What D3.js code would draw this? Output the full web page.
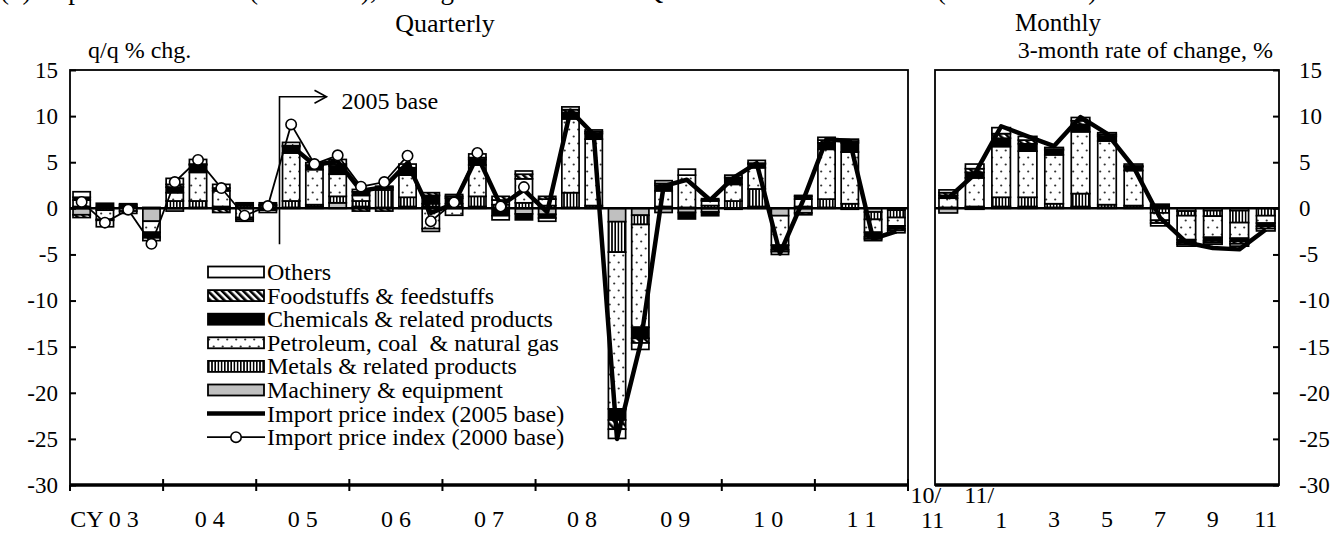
<!DOCTYPE html>
<html><head><meta charset="utf-8">
<script src="https://cdn.jsdelivr.net/npm/d3@7"></script>
<style>
body{margin:0;background:#fff}
svg{display:block}
text{font-family:"Liberation Serif","Times New Roman",serif;fill:#000}
</style>
</head><body>
<svg id="c" width="1342" height="533"></svg>
<script>
// ---------- DATA ----------
const quarters = ["03Q1","03Q2","03Q3","03Q4","04Q1","04Q2","04Q3","04Q4","05Q1","05Q2","05Q3","05Q4",
  "06Q1","06Q2","06Q3","06Q4","07Q1","07Q2","07Q3","07Q4","08Q1","08Q2","08Q3","08Q4",
  "09Q1","09Q2","09Q3","09Q4","10Q1","10Q2","10Q3","10Q4","11Q1","11Q2","11Q3","11Q4"];
const years = [2003,2004,2005,2006,2007,2008,2009,2010,2011,2012];
const yearLabels = ["CY 0 3","0 4","0 5","0 6","0 7","0 8","0 9","1 0","1 1"];
const months = ["10/11","10/12","11/1","11/2","11/3","11/4","11/5","11/6","11/7","11/8","11/9","11/10","11/11"];
const yTicks = [-30,-25,-20,-15,-10,-5,0,5,10,15];

const seriesKeys = ["Machinery","Metals","Petroleum","Chemicals","Foodstuffs","Others"];
const legendNames = ["Others","Foodstuffs & feedstuffs","Chemicals & related products",
  "Petroleum, coal  & natural gas","Metals & related products","Machinery & equipment",
  "Import price index (2005 base)","Import price index (2000 base)"];

// quarterly contributions (q/q % chg.)
const qMachinery = [-0.7,0.1,0.1,-1.4,-0.3,0.1,-0.1,0.1,0.1,0.1,0.2,0.6,0.2,0.1,0.2,0.2,0.2,0.2,0.1,-0.6,
  -0.65,0.1,0.1,-1.45,-0.75,-0.45,-0.45,-0.4,-0.1,0.2,-0.8,-0.5,0.1,-0.1,-0.4,-0.2];
const qMetals = [0.2,-0.2,0.1,0.1,0.8,0.7,0.2,0.2,0.2,0.7,0.2,0.7,0.6,1.9,1.0,0.3,0.3,1.1,0.3,0.6,
  0.3,1.6,0.2,-3.3,-1.0,0.2,0.1,0.3,0.8,1.9,0.0,0.2,0.9,0.5,-0.8,-0.8];
const qPetroleum = [0.7,-1.0,-0.3,-1.2,0.9,3.1,1.7,-1.0,0.1,5.2,3.8,2.4,0.6,0.2,2.4,-2.2,-0.75,3.4,0.5,2.6,
  0.7,8.0,7.2,-17.0,-11.15,1.7,3.5,0.5,1.8,2.3,-3.2,0.8,5.4,5.6,-1.4,-0.9];
const qChemicals = [0.3,0.45,0.2,-0.5,0.6,0.8,0.3,0.3,0.2,0.7,0.4,0.9,0.4,0.1,0.7,0.9,0.6,0.6,-0.8,-0.65,
  -0.4,0.7,0.6,-1.2,-1.2,0.6,-0.7,-0.4,0.7,0.4,-0.5,0.3,0.7,1.0,-0.5,-0.3];
const qFoodstuffs = [-0.3,-0.1,0.1,-0.1,0.3,0.1,-0.35,-0.2,-0.2,0.1,0.1,0.2,-0.3,-0.3,0.1,0.3,0.2,0.2,0.4,0.5,
  0.3,0.3,0.2,-1.0,-0.5,0.2,0.0,0.1,0.05,0.1,-0.2,-0.2,0.3,0.2,-0.2,-0.2];
const qOthers = [0.6,-0.7,-0.25,-0.3,0.65,0.5,0.4,-0.2,-0.25,0.35,0.25,0.5,0.25,0.1,0.4,-0.3,0.2,0.4,-0.45,0.35,
  -0.35,0.3,0.2,-1.0,-0.7,0.3,0.65,0.15,0.25,0.3,-0.3,0.1,0.3,0.2,-0.2,-0.25];
// import price index, 2005 base (from 05Q2) and 2000 base (to 07Q4)
const qIndex2005 = [null,null,null,null,null,null,null,null,null,
  6.8,4.7,5.1,1.9,2.3,4.9,-0.5,0.5,5.7,0.3,2.0,-0.4,10.6,8.0,-25.0,-14.8,2.4,3.1,0.9,3.3,4.9,-4.9,0.9,7.5,7.3,-3.3,-2.5];
const qIndex2000 = [0.7,-1.55,-0.15,-3.85,2.85,5.25,2.2,-0.8,0.25,9.1,4.8,5.75,2.35,2.85,5.7,-1.4,0.65,6.0,0.2,2.3,
  null,null,null,null,null,null,null,null,null,null,null,null,null,null,null,null];

// monthly contributions (3-month rate of change, %)
const mMachinery = [-0.5,-0.1,0.2,0.2,0.1,0.2,0.1,0.1,0.2,-0.3,-0.25,-0.25,0.0];
const mMetals = [0.1,0.2,1.0,1.0,0.4,1.4,0.3,0.2,-0.5,-0.5,-0.6,-1.3,-0.8];
const mPetroleum = [1.0,3.1,5.5,5.0,5.3,6.7,6.9,3.8,-0.8,-2.6,-2.3,-1.7,-0.8];
const mChemicals = [0.3,0.6,0.9,0.8,0.5,0.8,0.5,0.4,0.25,-0.3,-0.35,-0.35,-0.35];
const mFoodstuffs = [0.3,0.4,0.5,0.4,0.1,0.4,0.2,0.1,-0.3,-0.2,-0.2,-0.25,-0.25];
const mOthers = [0.3,0.5,0.65,0.4,0.2,0.35,0.2,0.2,-0.3,-0.2,-0.2,-0.25,-0.25];
const mIndex2005 = [1.1,3.7,8.9,7.8,6.75,9.9,8.1,4.5,-1.0,-3.7,-4.3,-4.45,-2.3];

// ---------- BUILD ----------
const qRows = quarters.map((c,i)=>({cat:c,Machinery:qMachinery[i],Metals:qMetals[i],Petroleum:qPetroleum[i],
  Chemicals:qChemicals[i],Foodstuffs:qFoodstuffs[i],Others:qOthers[i]}));
const mRows = months.map((c,i)=>({cat:c,Machinery:mMachinery[i],Metals:mMetals[i],Petroleum:mPetroleum[i],
  Chemicals:mChemicals[i],Foodstuffs:mFoodstuffs[i],Others:mOthers[i]}));

const svg = d3.select("#c");
const defs = svg.append("defs");
// patterns
const pf = defs.append("pattern").attr("id","pFood").attr("patternUnits","userSpaceOnUse")
  .attr("width",5).attr("height",5).attr("patternTransform","rotate(-45)");
pf.append("rect").attr("width",5).attr("height",5).attr("fill","#fff");
pf.append("rect").attr("width",2.6).attr("height",5).attr("fill","#000");
const pp = defs.append("pattern").attr("id","pPetro").attr("patternUnits","userSpaceOnUse")
  .attr("width",9).attr("height",14);
pp.append("rect").attr("width",9).attr("height",14).attr("fill","#fff");
pp.append("circle").attr("cx",2.2).attr("cy",3.5).attr("r",1.1).attr("fill","#333");
pp.append("circle").attr("cx",6.7).attr("cy",10.5).attr("r",1.1).attr("fill","#333");
const pm = defs.append("pattern").attr("id","pMetal").attr("patternUnits","userSpaceOnUse")
  .attr("width",3.2).attr("height",4);
pm.append("rect").attr("width",3.2).attr("height",4).attr("fill","#fff");
pm.append("rect").attr("width",1.6).attr("height",4).attr("fill","#000");

const fills = {Machinery:"#c0c0c0",Metals:"url(#pMetal)",Petroleum:"url(#pPetro)",
  Chemicals:"#000",Foodstuffs:"url(#pFood)",Others:"#fff"};

const y = d3.scaleLinear().domain([-30,15]).range([485,70]);
const xq = d3.scaleBand().domain(quarters).range([70,908]).paddingInner(0.26).paddingOuter(0.13);
const xm = d3.scaleBand().domain(months).range([935,1279]).paddingInner(0.3).paddingOuter(0.15);
const xYear = d3.scaleLinear().domain([2003,2012]).range([70,908]);

const stack = d3.stack().keys(seriesKeys).offset(d3.stackOffsetDiverging);

function drawBars(rows, x){
  const layers = stack(rows);
  const g = svg.append("g");
  layers.forEach(layer=>{
    g.selectAll(null).data(layer.filter(d=>Math.abs(d[1]-d[0])>1e-9)).join("rect")
      .attr("x",d=>x(d.data.cat)).attr("width",x.bandwidth())
      .attr("y",d=>y(Math.max(d[0],d[1])))
      .attr("height",d=>Math.abs(y(d[0])-y(d[1])))
      .attr("fill",fills[layer.key]).attr("stroke","#000").attr("stroke-width",1.7);
  });
}
drawBars(qRows, xq);
drawBars(mRows, xm);

// zero lines
svg.append("line").attr("x1",70).attr("x2",908).attr("y1",y(0)).attr("y2",y(0)).attr("stroke","#000").attr("stroke-width",2.5);
svg.append("line").attr("x1",935).attr("x2",1279).attr("y1",y(0)).attr("y2",y(0)).attr("stroke","#000").attr("stroke-width",2.5);

// lines
const qPts5 = quarters.map((c,i)=>({cat:c,v:qIndex2005[i]}));
const qPts0 = quarters.map((c,i)=>({cat:c,v:qIndex2000[i]}));
const mPts = months.map((c,i)=>({cat:c,v:mIndex2005[i]}));
const lineQ = d3.line().defined(d=>d.v!=null).x(d=>xq(d.cat)+xq.bandwidth()/2).y(d=>y(d.v));
const lineM = d3.line().x(d=>xm(d.cat)+xm.bandwidth()/2).y(d=>y(d.v));
svg.append("path").attr("d",lineQ(qPts5)).attr("fill","none").attr("stroke","#000").attr("stroke-width",4.5).attr("stroke-linejoin","round");
svg.append("path").attr("d",lineM(mPts)).attr("fill","none").attr("stroke","#000").attr("stroke-width",4.5).attr("stroke-linejoin","round");
svg.append("path").attr("d",lineQ(qPts0)).attr("fill","none").attr("stroke","#000").attr("stroke-width",1.8);
svg.append("g").selectAll("circle").data(qPts0.filter(d=>d.v!=null)).join("circle")
  .attr("cx",d=>xq(d.cat)+xq.bandwidth()/2).attr("cy",d=>y(d.v)).attr("r",5.2)
  .attr("fill","#fff").attr("stroke","#000").attr("stroke-width",1.6);

// 2005 base annotation
const bx = xq(quarters[9]) - (xq.step()-xq.bandwidth())/2;
svg.append("path").attr("d",`M${bx},${y(-3.9)}V${y(12.1)}H${bx+47}`).attr("fill","none").attr("stroke","#000").attr("stroke-width",1.6);
svg.append("path").attr("d",`M${bx+35},${y(12.1)-6.5}L${bx+47},${y(12.1)}L${bx+35},${y(12.1)+6.5}`).attr("fill","none").attr("stroke","#000").attr("stroke-width",1.6);
svg.append("text").attr("x",bx+62).attr("y",y(10.8)).attr("font-size",24).text("2005 base");

// frames
svg.append("rect").attr("x",70).attr("y",70).attr("width",838).attr("height",415).attr("fill","none").attr("stroke","#000").attr("stroke-width",1.8);
svg.append("rect").attr("x",935).attr("y",70).attr("width",344).attr("height",415).attr("fill","none").attr("stroke","#000").attr("stroke-width",1.8);
svg.append("line").attr("x1",70).attr("x2",908).attr("y1",485).attr("y2",485).attr("stroke","#000").attr("stroke-width",3.5);
svg.append("line").attr("x1",935).attr("x2",1279).attr("y1",485).attr("y2",485).attr("stroke","#000").attr("stroke-width",3.5);

// y axes
const axL = svg.append("g").attr("transform","translate(70,0)")
  .call(d3.axisLeft(y).tickValues(yTicks).tickSizeInner(-6).tickSizeOuter(0).tickPadding(12).tickFormat(d=>String(d)));
const axR = svg.append("g").attr("transform","translate(1279,0)")
  .call(d3.axisRight(y).tickValues(yTicks).tickSizeInner(-6).tickSizeOuter(0).tickPadding(20).tickFormat(d=>String(d)));
[axL,axR].forEach(a=>{
  a.select(".domain").remove();
  a.selectAll(".tick line").attr("stroke","#000").attr("stroke-width",2);
  a.selectAll(".tick text").attr("font-size",23).attr("font-family","'Liberation Serif','Times New Roman',serif").attr("fill","#000");
});

// x axis (years)
svg.append("g").selectAll("line").data(years).join("line")
  .attr("x1",d=>xYear(d)).attr("x2",d=>xYear(d))
  .attr("y1",d=>d===2003?485:479).attr("y2",491).attr("stroke","#000").attr("stroke-width",2);
svg.append("g").selectAll("text").data(yearLabels).join("text")
  .attr("x",(d,i)=>xYear(years[i]+0.5)).attr("y",527).attr("text-anchor","middle").attr("font-size",24)
  .attr("dx",(d,i)=>i===0?-12:0).text(d=>d);

// month labels
const mc = c => xm(c)+xm.bandwidth()/2;
const mLab = svg.append("g").attr("font-size",24);
mLab.append("text").attr("x",mc(months[0])-7).attr("y",503).attr("text-anchor","end").text("10/");
mLab.append("text").attr("x",mc(months[0])-4).attr("y",528).attr("text-anchor","end").text("11");
mLab.append("text").attr("x",mc(months[2])-7).attr("y",503).attr("text-anchor","end").text("11/");
mLab.append("text").attr("x",mc(months[2])).attr("y",528).attr("text-anchor","middle").text("1");
[4,6,8,10,12].forEach(i=>{
  mLab.append("text").attr("x",mc(months[i])).attr("y",527).attr("text-anchor","middle").text(String(+months[i].split("/")[1]));
});

// titles
svg.append("text").attr("x",0).attr("y",-1).attr("font-size",27)
  .text("(3) Import Price Index (Yen basis), Changes from Previous Quarter / 3 Months Earlier (contributions)");
svg.append("text").attr("x",445).attr("y",32).attr("text-anchor","middle").attr("font-size",26).text("Quarterly");
svg.append("text").attr("x",88).attr("y",58).attr("font-size",24).text("q/q % chg.");
svg.append("text").attr("x",1058).attr("y",31).attr("text-anchor","middle").attr("font-size",25).text("Monthly");
svg.append("text").attr("x",1273).attr("y",58).attr("text-anchor","end").attr("font-size",24).text("3-month rate of change, %");

// legend
const lg = svg.append("g");
const legY = i => 272 + i*23.6;
const legKeys = ["Others","Foodstuffs","Chemicals","Petroleum","Metals","Machinery"];
legKeys.forEach((k,i)=>{
  lg.append("rect").attr("x",208).attr("y",legY(i)-5.5).attr("width",56).attr("height",11)
    .attr("fill",fills[k]).attr("stroke","#000").attr("stroke-width",1.8);
});
lg.append("line").attr("x1",207).attr("x2",265).attr("y1",legY(6)).attr("y2",legY(6)).attr("stroke","#000").attr("stroke-width",4.5);
lg.append("line").attr("x1",207).attr("x2",265).attr("y1",legY(7)).attr("y2",legY(7)).attr("stroke","#000").attr("stroke-width",1.8);
lg.append("circle").attr("cx",236).attr("cy",legY(7)).attr("r",5.2).attr("fill","#fff").attr("stroke","#000").attr("stroke-width",1.6);
legendNames.forEach((n,i)=>{
  lg.append("text").attr("x",267).attr("y",legY(i)).attr("dy","0.33em").attr("font-size",24).style("white-space","pre").text(n);
});
</script>
</body></html>
